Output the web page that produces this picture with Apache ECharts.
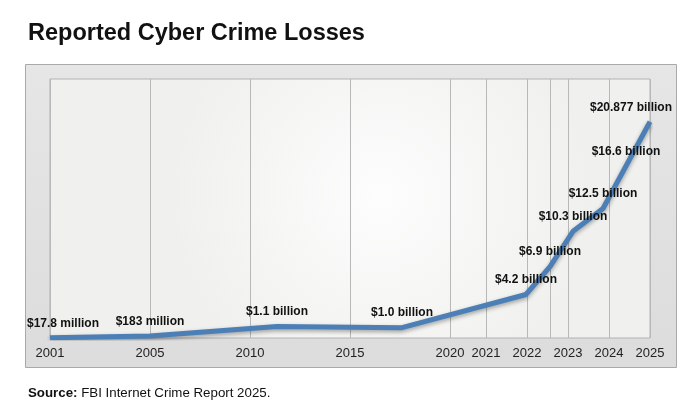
<!DOCTYPE html>
<html lang="en">
<head>
    <meta charset="utf-8">
    <title>Reported Cyber Crime Losses</title>
    <style>
        body {
            margin: 0;
            background: #fff;
        }

        #ec {
            width: 692px;
            height: 407px;
        }
    </style>
</head>
<body>
    <div id="ec"></div>
    <script src="https://cdn.jsdelivr.net/npm/echarts@6/dist/echarts.min.js"></script>
    <script>
        // the time axis of the original is uneven, so x is a position along that axis (0..600)
        var tickLabels = ['2001', '2005', '2010', '2015', '2020', '2021', '2022', '2023', '2024', '2025'];
        var tickPos = [0, 100, 200, 300, 400, 436, 477, 518, 559, 600];
        var extraGridPos = [500]; // unlabeled line between 2022 and 2023

        // loss points (billions of dollars) and their labels
        var pointPos = [0, 100, 227, 352, 476, 500, 523, 553, 576, 600];
        var lossBillions = [0.0178, 0.183, 1.1, 1.0, 4.2, 6.9, 10.3, 12.5, 16.6, 20.877];
        var lossLabels = ['$17.8 million', '$183 million', '$1.1 billion', '$1.0 billion', '$4.2 billion',
            '$6.9 billion', '$10.3 billion', '$12.5 billion', '$16.6 billion', '$20.877 billion'];

        (function() {
            'use strict';

            var font = '"Liberation Sans", Arial, sans-serif';

            var points = pointPos.map(function(x, i) {
                var item = {value: [x, lossBillions[i]], name: lossLabels[i]};
                if (i === 0) {
                    item.label = {offset: [13, 0]};
                }
                if (i === pointPos.length - 1) {
                    item.label = {offset: [-19, 0]};
                }
                return item;
            });

            var opt = {
                animation: false,
                backgroundColor: '#fff',
                title: {
                    text: 'Reported Cyber Crime Losses',
                    left: 28,
                    top: 22,
                    padding: 0,
                    textStyle: {
                        fontFamily: font,
                        fontSize: 23.5,
                        fontWeight: 'bold',
                        color: '#111'
                    }
                },
                graphic: [
                    {
                        type: 'rect',
                        z: -10,
                        shape: {x: 25.5, y: 64.5, width: 651, height: 303},
                        style: {
                            fill: new echarts.graphic.LinearGradient(0, 0, 0, 1, [
                                {offset: 0, color: '#e6e6e6'},
                                {offset: 1, color: '#dcdcdc'}
                            ]),
                            stroke: '#a9a9a9',
                            lineWidth: 1
                        }
                    },
                    {
                        type: 'text',
                        left: 28,
                        top: 387,
                        style: {
                            text: '{b|Source:} FBI Internet Crime Report 2025.',
                            font: '13.3px ' + font,
                            fill: '#111',
                            rich: {
                                b: {fontWeight: 'bold', fontSize: 13.3, fontFamily: font, fill: '#111'}
                            }
                        }
                    }
                ],
                grid: {
                    show: true,
                    left: 50,
                    right: 42,
                    top: 79,
                    bottom: 69,
                    backgroundColor: new echarts.graphic.RadialGradient(0.55, 0.45, 0.8, [
                        {offset: 0, color: '#fdfdfd'},
                        {offset: 1, color: '#f0f0ee'}
                    ]),
                    borderColor: '#b3b3b3',
                    borderWidth: 1
                },
                xAxis: {
                    type: 'value',
                    min: 0,
                    max: 600,
                    axisLine: {show: false},
                    axisTick: {
                        show: false,
                        customValues: tickPos.concat(extraGridPos)
                    },
                    axisLabel: {
                        customValues: tickPos,
                        margin: 9,
                        fontFamily: font,
                        fontSize: 13,
                        color: '#222',
                        formatter: function(v) {
                            var i = tickPos.indexOf(v);
                            return i >= 0 ? tickLabels[i] : '';
                        }
                    },
                    splitLine: {
                        show: true,
                        lineStyle: {color: '#b8b8b8', width: 1}
                    }
                },
                yAxis: {
                    type: 'value',
                    min: 0,
                    max: 25,
                    show: false,
                    splitLine: {show: false}
                },
                series: [
                    {
                        type: 'line',
                        data: points,
                        symbol: 'circle',
                        symbolSize: 1,
                        showAllSymbol: true,
                        itemStyle: {color: 'rgba(0, 0, 0, 0)'},
                        lineStyle: {
                            color: '#4b7fb6',
                            width: 5,
                            shadowColor: 'rgba(0, 0, 0, 0.35)',
                            shadowBlur: 4,
                            shadowOffsetY: 2
                        },
                        label: {
                            show: true,
                            position: 'top',
                            distance: 8,
                            fontFamily: font,
                            fontSize: 12,
                            fontWeight: 'bold',
                            color: '#111',
                            formatter: function(p) {
                                return p.name;
                            }
                        }
                    }
                ]
            };

            var chart = echarts.init(document.getElementById('ec'));
            chart.setOption(opt);
        }());
    </script>
</body>
</html>
